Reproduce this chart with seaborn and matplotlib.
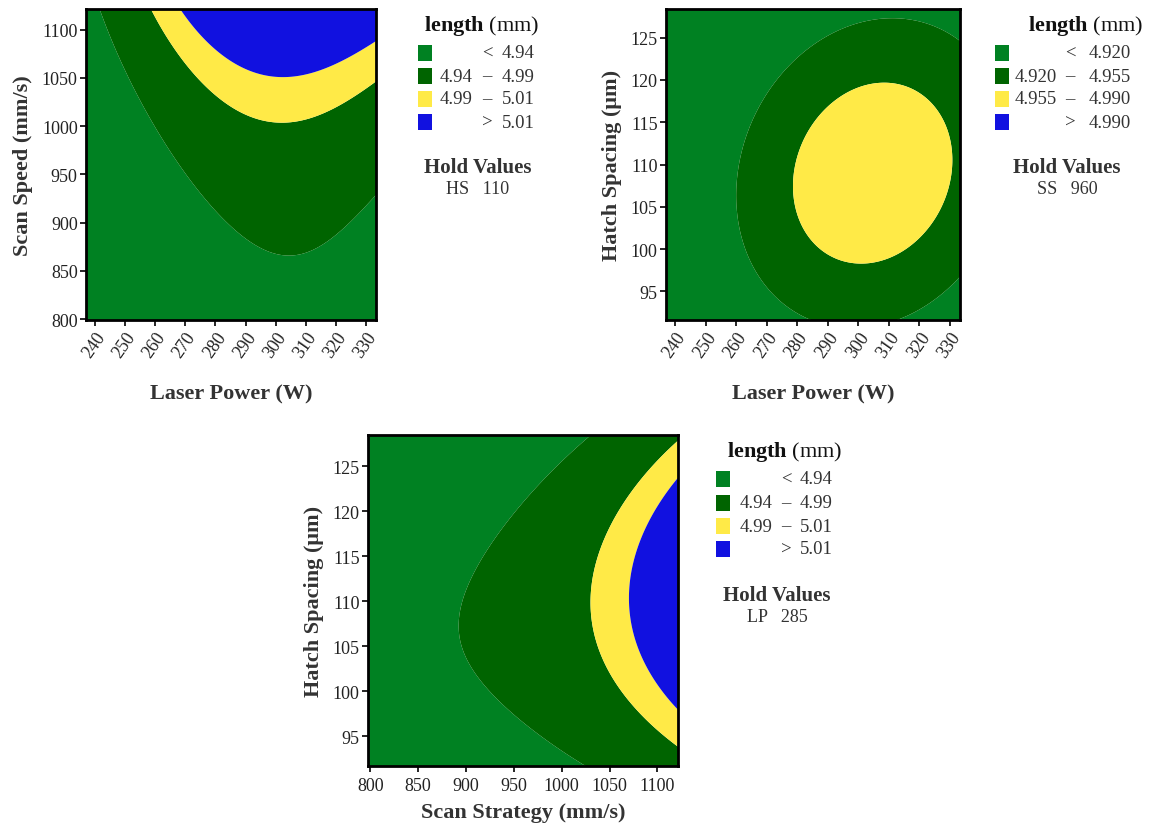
import numpy as np
import matplotlib
matplotlib.use("Agg")
import matplotlib.pyplot as plt
import seaborn as sns
from matplotlib.patches import Rectangle

sns.set_style("white")
plt.rcParams["font.family"] = ["Liberation Serif", "DejaVu Serif"]
plt.rcParams["mathtext.fontset"] = "custom"
plt.rcParams["mathtext.rm"] = "Liberation Serif"
plt.rcParams["mathtext.bf"] = "Liberation Serif:bold"

W, H = 1160, 829
band_colors = ["#008122", "#006400", "#ffea47", "#1111e0"]

# ---- readings of the band edges (x, y points on each contour line) ----
# panel 1: Laser Power vs Scan Speed, HS held at 110
p1_levels = [4.94, 4.99, 5.01]
p1_lp_a = [241, 252, 263, 269, 279, 291, 304, 317, 325.5, 333]
p1_ss_a = [1121, 1054, 985, 951, 917, 882, 865, 882, 901, 928]
p1_lp_b = [259, 267, 278, 289, 304, 317, 325.5, 333]
p1_ss_b = [1121, 1072, 1034, 1013, 1006, 1013, 1030, 1048]
p1_lp_c = [268.5, 278, 289, 305, 318, 325.5, 333]
p1_ss_c = [1121, 1085, 1063, 1052, 1060, 1072, 1088]

# panel 2: Laser Power vs Hatch Spacing, SS held at 960
p2_levels = [4.920, 4.955]
p2_lp_a = [309.5, 290.7, 277.5, 266.5, 261, 260, 261.5, 266.5, 275.3, 283.5, 314, 333, 333]
p2_hs_a = [127.6, 125.1, 120.7, 114.8, 110.8, 107.3, 101.9, 97.5, 94.0, 91.6, 91.6, 95.8, 125.0]
p2_lp_b = [307, 286.5, 276.5, 282.5, 301, 320.5, 330.5, 324.5]
p2_hs_b = [119.6, 116.6, 108.6, 101.8, 98.7, 101.8, 110.0, 116.6]

# panel 3: Scan Strategy vs Hatch Spacing, LP held at 285
p3_levels = [4.94, 4.99, 5.01]
p3_ss_a = [1036, 983, 934, 903, 894, 903, 945, 997, 1025]
p3_hs_a = [128.5, 124.0, 117.7, 112.1, 107.3, 102.7, 97.9, 93.8, 91.8]
p3_ss_b = [1120.5, 1077, 1060, 1039, 1031, 1042, 1063, 1120.5]
p3_hs_b = [127.9, 123.2, 120.3, 115.8, 110.1, 104.6, 99.0, 93.9]
p3_ss_c = [1120.5, 1081, 1074, 1081, 1120.5]
p3_hs_c = [123.5, 116.5, 110.0, 103.5, 98.4]

lp_ticks = list(range(240, 331, 10))
ss_ticks = [800, 850, 900, 950, 1000, 1050, 1100]
hs_ticks = [95, 100, 105, 110, 115, 120, 125]

p1_labels = [("", "<", "4.94"), ("4.94", "–", "4.99"), ("4.99", "–", "5.01"), ("", ">", "5.01")]
p2_labels = [("", "<", "4.920"), ("4.920", "–", "4.955"), ("4.955", "–", "4.990"), ("", ">", "4.990")]
p3_labels = p1_labels


def terms(u, v, cubic):
    t = [np.ones_like(u), u, v, u * u, u * v, v * v]
    if cubic:
        t += [u ** 3, u * u * v, u * v * v, v ** 3]
    return np.stack(t, axis=-1)


def fit_surface(lines, levels, xr, yr, cubic, n=300):
    # polynomial response surface through the edge readings
    xs, ys, zs = [], [], []
    for (lx, ly), lev in zip(lines, levels):
        xs += lx
        ys += ly
        zs += [lev] * len(lx)
    xm, xh = np.mean(xr), np.ptp(xr) / 2
    ym, yh = np.mean(yr), np.ptp(yr) / 2
    u = (np.array(xs) - xm) / xh
    v = (np.array(ys) - ym) / yh
    z = np.array(zs)
    A = terms(u, v, cubic)
    w = np.ones_like(u)
    e = 1e-4
    for _ in range(4):
        c = np.linalg.lstsq(A * w[:, None], z * w, rcond=None)[0]
        gu = (terms(u + e, v, cubic) - terms(u - e, v, cubic)) @ c / (2 * e)
        gv = (terms(u, v + e, cubic) - terms(u, v - e, cubic)) @ c / (2 * e)
        w = 1 / np.hypot(gu, gv)
    gx = np.linspace(xr[0], xr[1], n)
    gy = np.linspace(yr[0], yr[1], n)
    GX, GY = np.meshgrid(gx, gy)
    Z = terms((GX - xm) / xh, (GY - ym) / yh, cubic) @ c
    return GX, GY, Z


def px_rect(l, t, r, b):
    return [l / W, 1 - b / H, (r - l) / W, (b - t) / H]


def fx(x):
    return x / W


def fy(y):
    return 1 - y / H


fig = plt.figure(figsize=(11.6, 8.29), dpi=100)


def panel(rect, lines, levels, xr, yr, xticks, yticks, xlabel, ylabel, rot, xpad, cubic):
    ax = fig.add_axes(rect)
    GX, GY, Z = fit_surface(lines, levels, xr, yr, cubic)
    bounds = [-np.inf] + list(levels) + [np.inf]
    ax.contourf(GX, GY, Z, levels=bounds, colors=band_colors[:len(bounds) - 1],
                antialiased=True)
    ax.set_xlim(xr)
    ax.set_ylim(yr)
    ax.set_xticks(xticks)
    ax.set_yticks(yticks)
    ax.tick_params(direction="out", length=4, width=1.2, color="black",
                   labelsize=13, labelcolor="#222222", bottom=True, left=True, pad=2)
    if rot:
        plt.setp(ax.get_xticklabels(), rotation=55, ha="right", rotation_mode="anchor")
    else:
        ax.tick_params(axis="x", pad=4)
    for s in ax.spines.values():
        s.set_linewidth(2)
        s.set_color("black")
    ax.set_xlabel(xlabel, fontsize=16, fontweight="bold", color="#333333", labelpad=xpad)
    ax.set_ylabel(ylabel, fontsize=16, fontweight="bold", color="#333333", labelpad=6)
    return ax


def legend(sq_x, title_xy, rows_y, labels, num_x, hold_xy, hold_txt):
    num_l, dash_c, num_r = num_x
    fig.text(fx(title_xy[0]), fy(title_xy[1]), r"$\mathbf{length}$ (mm)", fontsize=16,
             va="center", ha="center", color="#111111")
    for (a, m, b), y, col in zip(labels, rows_y, band_colors):
        fig.add_artist(Rectangle((fx(sq_x), fy(y + 8)), 14 / W, 16 / H,
                                 transform=fig.transFigure, facecolor=col, edgecolor="none"))
        fig.text(fx(num_l), fy(y), a, fontsize=13.5, ha="right", va="center", color="#333333")
        fig.text(fx(dash_c), fy(y), m, fontsize=13.5, ha="center", va="center", color="#333333")
        fig.text(fx(num_r), fy(y), b, fontsize=13.5, ha="right", va="center", color="#333333")
    fig.text(fx(hold_xy[0]), fy(hold_xy[1]), "Hold Values", fontsize=15, fontweight="bold",
             ha="center", va="center", color="#333333")
    fig.text(fx(hold_xy[0]), fy(hold_xy[1] + 22), hold_txt, fontsize=13, ha="center",
             va="center", color="#333333")


panel(px_rect(86, 10, 376, 321),
      [(p1_lp_a, p1_ss_a), (p1_lp_b, p1_ss_b), (p1_lp_c, p1_ss_c)], p1_levels,
      (237, 333.3), (799, 1121.5), lp_ticks, ss_ticks,
      "Laser Power (W)", "Scan Speed (mm/s)", True, 17, True)
legend(418, (481.5, 26), [54, 77, 100, 123], p1_labels, (473, 487, 535), (478, 168), "HS   110")

panel(px_rect(666, 10, 960, 321),
      [(p2_lp_a, p2_hs_a), (p2_lp_b, p2_hs_b)], p2_levels,
      (237, 333.3), (91.6, 128.4), lp_ticks, hs_ticks,
      "Laser Power (W)", "Hatch Spacing (μm)", True, 17, False)
legend(995, (1085.5, 26), [54, 77, 100, 123], p2_labels, (1057, 1070, 1131), (1067, 168), "SS   960")

panel(px_rect(368, 436, 678, 767),
      [(p3_ss_a, p3_hs_a), (p3_ss_b, p3_hs_b), (p3_ss_c, p3_hs_c)], p3_levels,
      (797.5, 1121.5), (91.7, 128.5), ss_ticks, hs_ticks,
      "Scan Strategy (mm/s)", "Hatch Spacing (μm)", False, 6, True)
legend(716, (785, 452), [480, 504, 527, 550], p3_labels, (772, 786, 833), (777, 596), "LP   285")

fig.savefig("out.png", dpi=100, facecolor="white")
